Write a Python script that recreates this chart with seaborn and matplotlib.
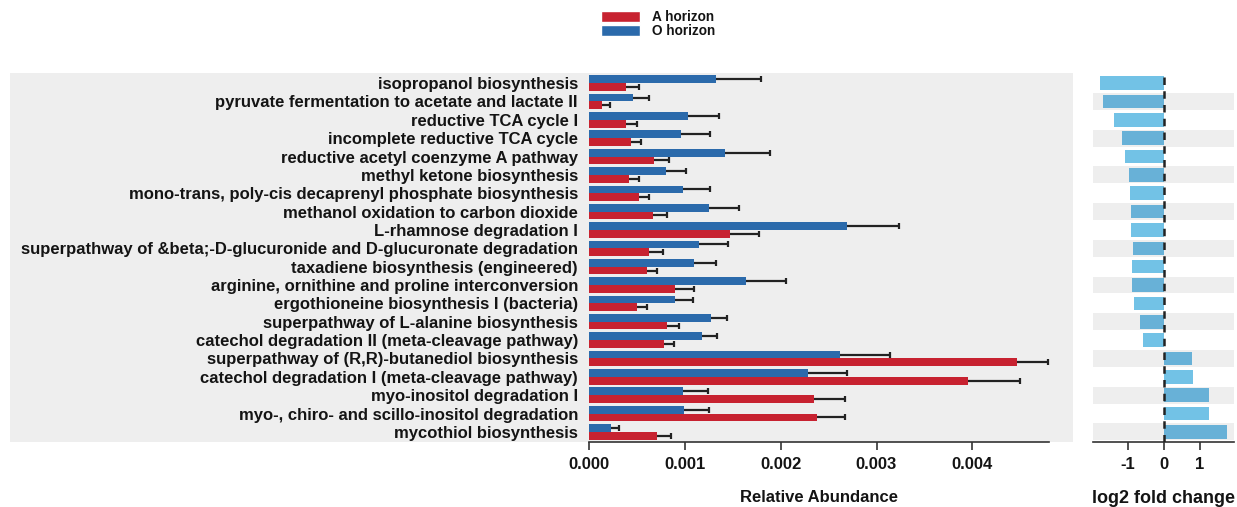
import matplotlib
matplotlib.use('Agg')
import matplotlib.pyplot as plt
from matplotlib.patches import Patch, Rectangle
import seaborn as sns
import pandas as pd

pathways = [
    'isopropanol biosynthesis',
    'pyruvate fermentation to acetate and lactate II',
    'reductive TCA cycle I',
    'incomplete reductive TCA cycle',
    'reductive acetyl coenzyme A pathway',
    'methyl ketone biosynthesis',
    'mono-trans, poly-cis decaprenyl phosphate biosynthesis',
    'methanol oxidation to carbon dioxide',
    'L-rhamnose degradation I',
    'superpathway of &beta;-D-glucuronide and D-glucuronate degradation',
    'taxadiene biosynthesis (engineered)',
    'arginine, ornithine and proline interconversion',
    'ergothioneine biosynthesis I (bacteria)',
    'superpathway of L-alanine biosynthesis',
    'catechol degradation II (meta-cleavage pathway)',
    'superpathway of (R,R)-butanediol biosynthesis',
    'catechol degradation I (meta-cleavage pathway)',
    'myo-inositol degradation I',
    'myo-, chiro- and scillo-inositol degradation',
    'mycothiol biosynthesis',
]

o_mean = [0.00132, 0.00046, 0.00103, 0.00096, 0.00142, 0.00080, 0.00098, 0.00125, 0.00269, 0.00115,
          0.00110, 0.00164, 0.00090, 0.00127, 0.00118, 0.00262, 0.00228, 0.00098, 0.00099, 0.00023]
o_se = [0.00047, 0.00017, 0.00033, 0.00030, 0.00047, 0.00021, 0.00028, 0.00032, 0.00054, 0.00030,
        0.00023, 0.00042, 0.00019, 0.00017, 0.00016, 0.00052, 0.00041, 0.00026, 0.00026, 0.00008]
a_mean = [0.00039, 0.00014, 0.00039, 0.00044, 0.00068, 0.00042, 0.00052, 0.00067, 0.00147, 0.00063,
          0.00060, 0.00090, 0.00050, 0.00081, 0.00078, 0.00447, 0.00395, 0.00235, 0.00238, 0.00071]
a_se = [0.00013, 0.00008, 0.00011, 0.00010, 0.00015, 0.00010, 0.00011, 0.00014, 0.00030, 0.00014,
        0.00011, 0.00020, 0.00011, 0.00013, 0.00011, 0.00032, 0.00055, 0.00032, 0.00029, 0.00015]

log2fc = [-1.76, -1.67, -1.38, -1.15, -1.07, -0.97, -0.94, -0.90, -0.90, -0.86,
          -0.87, -0.87, -0.82, -0.65, -0.57, 0.77, 0.80, 1.26, 1.26, 1.74]

horizons = ['O horizon', 'A horizon']
colors = {'A horizon': '#C72230', 'O horizon': '#2B6AAB'}
INK = '#141414'

sns.set_style('white')
plt.rcParams['font.family'] = ['Liberation Sans', 'DejaVu Sans']
plt.rcParams['font.weight'] = 'bold'
plt.rcParams['axes.unicode_minus'] = False
plt.rcParams['text.color'] = INK
plt.rcParams['xtick.color'] = INK
plt.rcParams['ytick.color'] = INK
plt.rcParams['axes.labelcolor'] = INK

df = pd.DataFrame({
    'pathway': pathways * 2,
    'horizon': ['O horizon'] * len(pathways) + ['A horizon'] * len(pathways),
    'value': o_mean + a_mean,
})

fig = plt.figure(figsize=(12.37, 5.07), dpi=100)
W, H = 1237, 507
ax = fig.add_axes([589 / W, 1 - 442 / H, 460 / W, 369 / H])
ax2 = fig.add_axes([1093 / W, 1 - 442 / H, 141 / W, 369 / H])

# grey panel behind the labels and bars
fig.patches.append(Rectangle((10 / W, 1 - 442 / H), 1063 / W, 369 / H, transform=fig.transFigure,
                             facecolor='#eeeeee', edgecolor='none', zorder=-5))
ax.patch.set_visible(False)

sns.barplot(data=df, x='value', y='pathway', hue='horizon', hue_order=horizons, palette=colors,
            orient='h', width=0.84, ax=ax, legend=False, saturation=1, linewidth=0)

for cont, se in zip(ax.containers, [o_se, a_se]):
    ys = [b.get_y() + b.get_height() / 2 for b in cont]
    xs = [b.get_width() for b in cont]
    ends = [x + s for x, s in zip(xs, se)]
    ax.hlines(ys, xs, ends, color='#222222', lw=1.6, zorder=3)
    ax.plot(ends, ys, ls='none', marker='|', ms=5, mew=1.6, color='#222222', zorder=3)

ax.set_xlim(0, 0.0048)
ax.set_ylim(19.55, -0.55)
ax.set_xticks([0, 0.001, 0.002, 0.003, 0.004])
ax.set_xticklabels(['0.000', '0.001', '0.002', '0.003', '0.004'])
for s in ['top', 'right', 'left']:
    ax.spines[s].set_visible(False)
ax.spines['bottom'].set_linewidth(1.2)
ax.spines['bottom'].set_color('#333333')
ax.tick_params(axis='x', bottom=True, length=6, width=1.2, color='#333333', labelsize=12, pad=5)
ax.tick_params(axis='y', length=0, labelsize=12, pad=8)
for t in ax.get_yticklabels() + ax.get_xticklabels():
    t.set_fontweight('bold')
ax.set_ylabel('')
ax.set_xlabel('Relative Abundance', fontsize=12, fontweight='bold', labelpad=13)

# right panel: log2 fold change
for i in range(1, len(pathways), 2):
    ax2.axhspan(i - 0.46, i + 0.46, color='#eeeeee', lw=0, zorder=0)
parity = ['odd' if i % 2 else 'even' for i in range(len(pathways))]
fc = pd.DataFrame({'pathway': pathways, 'lfc': log2fc, 'row': parity})
sns.barplot(data=fc, x='lfc', y='pathway', hue='row', palette={'even': '#72C2E6', 'odd': '#68B1D7'},
            orient='h', width=0.74, ax=ax2, legend=False, saturation=1, linewidth=0, zorder=2)
ax2.axvline(0, color='#222222', lw=1.8, ls=(0, (3, 2.5)), zorder=3)
ax2.set_xlim(-1.96, 1.94)
ax2.set_ylim(19.55, -0.55)
ax2.set_xticks([-1, 0, 1])
ax2.set_yticks([])
ax2.set_ylabel('')
for s in ['top', 'right', 'left']:
    ax2.spines[s].set_visible(False)
ax2.spines['bottom'].set_linewidth(1.2)
ax2.spines['bottom'].set_color('#333333')
ax2.tick_params(axis='x', bottom=True, length=6, width=1.2, color='#333333', labelsize=12, pad=5)
for t in ax2.get_xticklabels():
    t.set_fontweight('bold')
ax2.set_xlabel('log2 fold change', fontsize=13, fontweight='bold', labelpad=13)

handles = [Patch(facecolor=colors['A horizon']), Patch(facecolor=colors['O horizon'])]
leg = fig.legend(handles, ['A horizon', 'O horizon'], loc='center', bbox_to_anchor=(0.532, 0.953),
                 frameon=False, fontsize=9.8, handlelength=2.9, handleheight=0.85, labelspacing=0,
                 handletextpad=0.9, borderpad=0)
for t in leg.get_texts():
    t.set_fontweight('bold')

fig.savefig('out.png', dpi=100)
